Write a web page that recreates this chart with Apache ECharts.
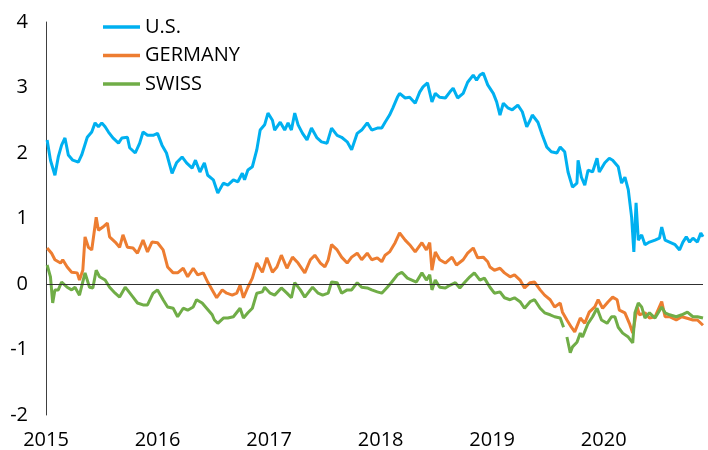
<!DOCTYPE html>
<html>

<head>
    <meta charset="utf-8">
    <title>10-year yields</title>
    <script src="https://cdn.jsdelivr.net/npm/echarts@6/dist/echarts.min.js"></script>
    <style>
        html, body { margin: 0; padding: 0; background: #fff; }
    </style>
</head>

<body>
    <div id="main" style="width: 708px;height:450px;"></div>
    <script type="text/javascript">
        // x values are decimal years
        var usYears = [2015.01, 2015.04, 2015.08, 2015.11, 2015.14, 2015.17, 2015.20, 2015.24, 2015.29, 2015.32,
            2015.37, 2015.41, 2015.44, 2015.47, 2015.50, 2015.53, 2015.56, 2015.60, 2015.65, 2015.68,
            2015.73, 2015.75, 2015.80, 2015.84, 2015.87, 2015.91, 2015.96, 2016.00, 2016.04, 2016.08,
            2016.13, 2016.17, 2016.22, 2016.26, 2016.31, 2016.34, 2016.38, 2016.42, 2016.45, 2016.50,
            2016.54, 2016.59, 2016.63, 2016.68, 2016.72, 2016.76, 2016.78, 2016.81, 2016.85, 2016.89,
            2016.92, 2016.96, 2016.99, 2017.03, 2017.05, 2017.10, 2017.14, 2017.17, 2017.20, 2017.23,
            2017.26, 2017.30, 2017.34, 2017.38, 2017.43, 2017.47, 2017.52, 2017.56, 2017.61, 2017.65,
            2017.70, 2017.74, 2017.79, 2017.83, 2017.88, 2017.92, 2017.97, 2018.01, 2018.04, 2018.08,
            2018.11, 2018.15, 2018.17, 2018.22, 2018.26, 2018.31, 2018.35, 2018.38, 2018.42, 2018.46,
            2018.49, 2018.53, 2018.58, 2018.62, 2018.65, 2018.69, 2018.74, 2018.78, 2018.83, 2018.86,
            2018.89, 2018.92, 2018.96, 2019.01, 2019.04, 2019.07, 2019.10, 2019.14, 2019.18, 2019.23,
            2019.27, 2019.31, 2019.34, 2019.36, 2019.41, 2019.45, 2019.49, 2019.53, 2019.58, 2019.61,
            2019.65, 2019.68, 2019.72, 2019.76, 2019.77, 2019.80, 2019.83, 2019.86, 2019.90, 2019.94,
            2019.96, 2020.01, 2020.05, 2020.08, 2020.13, 2020.16, 2020.19, 2020.22, 2020.25, 2020.27,
            2020.29, 2020.31, 2020.34, 2020.37, 2020.41, 2020.46, 2020.50, 2020.52, 2020.55, 2020.59,
            2020.64, 2020.68, 2020.71, 2020.74, 2020.77, 2020.80, 2020.84, 2020.87, 2020.89];
        var usValues = [2.20, 1.89, 1.66, 1.94, 2.12, 2.23, 1.97, 1.89, 1.86, 1.97,
            2.24, 2.32, 2.46, 2.40, 2.46, 2.40, 2.32, 2.23, 2.15, 2.23,
            2.24, 2.08, 2.00, 2.15, 2.32, 2.27, 2.27, 2.30, 2.12, 2.00,
            1.69, 1.85, 1.94, 1.85, 1.77, 1.89, 1.71, 1.85, 1.66, 1.59,
            1.39, 1.54, 1.51, 1.59, 1.56, 1.69, 1.59, 1.74, 1.79, 2.05,
            2.35, 2.43, 2.61, 2.50, 2.35, 2.47, 2.35, 2.46, 2.35, 2.61,
            2.43, 2.30, 2.20, 2.38, 2.23, 2.17, 2.15, 2.38, 2.27, 2.24,
            2.17, 2.05, 2.30, 2.35, 2.46, 2.35, 2.38, 2.38, 2.47, 2.58,
            2.69, 2.85, 2.91, 2.84, 2.85, 2.76, 2.93, 3.01, 3.07, 2.78,
            2.91, 2.85, 2.84, 2.93, 2.99, 2.84, 2.91, 3.08, 3.19, 3.11,
            3.19, 3.22, 3.04, 2.91, 2.78, 2.58, 2.76, 2.69, 2.66, 2.73,
            2.63, 2.40, 2.50, 2.58, 2.47, 2.27, 2.09, 2.02, 2.00, 2.09,
            2.02, 1.71, 1.48, 1.54, 1.89, 1.63, 1.51, 1.74, 1.71, 1.92,
            1.71, 1.85, 1.92, 1.89, 1.79, 1.54, 1.63, 1.44, 1.02, 0.49,
            1.24, 0.67, 0.75, 0.60, 0.64, 0.67, 0.70, 0.87, 0.67, 0.64,
            0.60, 0.52, 0.64, 0.72, 0.64, 0.70, 0.64, 0.78, 0.72];

        var deYears = [2015.01, 2015.05, 2015.08, 2015.13, 2015.15, 2015.19, 2015.23, 2015.28, 2015.30, 2015.33,
            2015.35, 2015.38, 2015.41, 2015.45, 2015.47, 2015.51, 2015.55, 2015.57, 2015.62, 2015.66,
            2015.69, 2015.73, 2015.78, 2015.82, 2015.87, 2015.91, 2015.95, 2016.00, 2016.05, 2016.09,
            2016.14, 2016.18, 2016.23, 2016.27, 2016.32, 2016.36, 2016.41, 2016.45, 2016.49, 2016.53,
            2016.58, 2016.62, 2016.67, 2016.71, 2016.74, 2016.77, 2016.81, 2016.85, 2016.89, 2016.94,
            2016.98, 2017.03, 2017.07, 2017.11, 2017.16, 2017.21, 2017.26, 2017.32, 2017.37, 2017.41,
            2017.46, 2017.50, 2017.53, 2017.56, 2017.61, 2017.65, 2017.70, 2017.74, 2017.79, 2017.83,
            2017.88, 2017.92, 2017.97, 2018.01, 2018.04, 2018.08, 2018.13, 2018.17, 2018.22, 2018.26,
            2018.31, 2018.37, 2018.41, 2018.44, 2018.46, 2018.49, 2018.53, 2018.58, 2018.64, 2018.68,
            2018.74, 2018.78, 2018.83, 2018.87, 2018.92, 2018.96, 2018.98, 2019.02, 2019.07, 2019.11,
            2019.16, 2019.20, 2019.25, 2019.29, 2019.34, 2019.38, 2019.43, 2019.47, 2019.52, 2019.56,
            2019.61, 2019.63, 2019.67, 2019.71, 2019.74, 2019.79, 2019.83, 2019.87, 2019.92, 2019.95,
            2019.99, 2020.04, 2020.08, 2020.12, 2020.14, 2020.19, 2020.23, 2020.26, 2020.30, 2020.32,
            2020.37, 2020.41, 2020.46, 2020.52, 2020.55, 2020.59, 2020.65, 2020.70, 2020.74, 2020.80,
            2020.84, 2020.89];
        var deValues = [0.55, 0.47, 0.37, 0.32, 0.37, 0.26, 0.18, 0.17, 0.06, 0.21,
            0.72, 0.56, 0.52, 1.02, 0.82, 0.87, 0.93, 0.72, 0.64, 0.56,
            0.75, 0.56, 0.55, 0.47, 0.67, 0.49, 0.64, 0.63, 0.52, 0.26,
            0.17, 0.17, 0.24, 0.11, 0.24, 0.14, 0.17, 0.03, -0.09, -0.21,
            -0.09, -0.14, -0.17, -0.14, -0.02, -0.21, -0.05, 0.09, 0.32, 0.18,
            0.40, 0.18, 0.26, 0.44, 0.24, 0.41, 0.32, 0.17, 0.37, 0.44,
            0.32, 0.26, 0.37, 0.60, 0.52, 0.41, 0.32, 0.41, 0.47, 0.37,
            0.47, 0.37, 0.40, 0.34, 0.44, 0.49, 0.63, 0.78, 0.67, 0.60,
            0.49, 0.63, 0.52, 0.63, 0.21, 0.49, 0.37, 0.32, 0.41, 0.29,
            0.37, 0.47, 0.55, 0.40, 0.41, 0.34, 0.26, 0.21, 0.24, 0.17,
            0.11, 0.14, 0.06, -0.06, 0.02, 0.03, -0.09, -0.17, -0.24, -0.35,
            -0.29, -0.43, -0.55, -0.66, -0.73, -0.52, -0.60, -0.43, -0.35, -0.24,
            -0.37, -0.27, -0.20, -0.24, -0.40, -0.44, -0.60, -0.75, -0.35, -0.47,
            -0.44, -0.52, -0.50, -0.27, -0.50, -0.50, -0.55, -0.50, -0.52, -0.55,
            -0.55, -0.63];

        // null marks the short break in the Swiss line in 2019
        var chYears = [2015.01, 2015.04, 2015.06, 2015.08, 2015.11, 2015.14, 2015.19, 2015.23, 2015.26, 2015.30,
            2015.35, 2015.39, 2015.42, 2015.45, 2015.48, 2015.53, 2015.57, 2015.62, 2015.66, 2015.71,
            2015.73, 2015.78, 2015.82, 2015.87, 2015.91, 2015.96, 2016.00, 2016.05, 2016.09, 2016.14,
            2016.18, 2016.23, 2016.27, 2016.32, 2016.35, 2016.40, 2016.44, 2016.49, 2016.51, 2016.54,
            2016.59, 2016.63, 2016.68, 2016.74, 2016.77, 2016.81, 2016.85, 2016.89, 2016.94, 2016.96,
            2017.01, 2017.05, 2017.11, 2017.16, 2017.20, 2017.23, 2017.28, 2017.32, 2017.37, 2017.39,
            2017.44, 2017.48, 2017.53, 2017.56, 2017.61, 2017.65, 2017.70, 2017.74, 2017.79, 2017.83,
            2017.88, 2017.92, 2017.97, 2018.01, 2018.06, 2018.10, 2018.15, 2018.19, 2018.24, 2018.28,
            2018.32, 2018.37, 2018.41, 2018.44, 2018.46, 2018.49, 2018.53, 2018.58, 2018.62, 2018.67,
            2018.71, 2018.75, 2018.80, 2018.84, 2018.89, 2018.93, 2018.98, 2019.02, 2019.07, 2019.11,
            2019.16, 2019.20, 2019.25, 2019.29, 2019.34, 2019.38, 2019.43, 2019.47, 2019.52, 2019.56,
            2019.61, 2019.64, 2019.655, 2019.67, 2019.70, 2019.72, 2019.76, 2019.79, 2019.81, 2019.86,
            2019.90, 2019.94, 2019.98, 2020.03, 2020.07, 2020.10, 2020.13, 2020.17, 2020.22, 2020.26,
            2020.28, 2020.31, 2020.34, 2020.37, 2020.41, 2020.46, 2020.52, 2020.55, 2020.59, 2020.65,
            2020.70, 2020.75, 2020.80, 2020.84, 2020.89];
        var chValues = [0.29, 0.11, -0.29, -0.09, -0.09, 0.03, -0.05, -0.09, -0.05, -0.17,
            0.17, -0.05, -0.06, 0.21, 0.11, 0.06, -0.05, -0.14, -0.20, -0.05,
            -0.09, -0.20, -0.29, -0.32, -0.32, -0.14, -0.09, -0.24, -0.35, -0.37,
            -0.50, -0.37, -0.40, -0.35, -0.24, -0.29, -0.37, -0.47, -0.55, -0.60,
            -0.52, -0.52, -0.50, -0.37, -0.52, -0.44, -0.37, -0.14, -0.12, -0.05,
            -0.14, -0.17, -0.06, -0.14, -0.21, 0.02, -0.09, -0.20, -0.09, -0.05,
            -0.14, -0.17, -0.14, 0.03, 0.02, -0.14, -0.09, -0.09, 0.02, -0.05,
            -0.06, -0.09, -0.12, -0.14, -0.05, 0.03, 0.14, 0.18, 0.09, 0.06,
            0.03, 0.17, 0.06, 0.14, -0.09, 0.06, -0.05, -0.06, -0.02, 0.02,
            -0.06, 0.02, 0.11, 0.17, 0.06, 0.09, -0.05, -0.14, -0.12, -0.21,
            -0.24, -0.21, -0.27, -0.37, -0.27, -0.24, -0.37, -0.44, -0.47, -0.50,
            -0.52, -0.66, null, -0.81, -1.05, -0.96, -0.89, -0.75, -0.81, -0.60,
            -0.50, -0.37, -0.55, -0.60, -0.50, -0.50, -0.66, -0.75, -0.81, -0.90,
            -0.44, -0.29, -0.35, -0.52, -0.44, -0.52, -0.35, -0.44, -0.47, -0.50,
            -0.47, -0.43, -0.50, -0.50, -0.52];

        var yearTicks = [2015, 2016, 2017, 2018, 2019, 2020];

        function pairs(xs, ys) {
            return xs.map(function (x, i) {
                return [x, ys[i] === null ? '-' : ys[i]];
            });
        }

        var dom = document.getElementById("main");
        var myChart = echarts.init(dom);
        var font = 'Open Sans';

        var option = {
            animation: false,
            grid: {
                left: 46,
                right: 5,
                top: 22,
                bottom: 35
            },
            legend: {
                orient: 'vertical',
                left: 103,
                top: 17,
                padding: 0,
                icon: 'rect',
                itemWidth: 37,
                itemHeight: 3.5,
                itemGap: 8.5,
                textStyle: {
                    fontFamily: font,
                    fontSize: 20,
                    lineHeight: 20,
                    color: '#000'
                },
                data: ['U.S.', 'GERMANY', 'SWISS']
            },
            xAxis: {
                type: 'value',
                min: yearTicks[0],
                max: 2020.89,
                interval: 1,
                axisLine: { show: false },
                axisTick: { show: false },
                splitLine: { show: false },
                axisLabel: {
                    margin: 15,
                    color: '#000',
                    fontFamily: font,
                    fontSize: 20,
                    formatter: function (v) {
                        return yearTicks.indexOf(v) >= 0 ? String(v) : '';
                    }
                }
            },
            yAxis: {
                type: 'value',
                min: -2,
                max: 4,
                interval: 1,
                axisLine: { show: true, lineStyle: { color: '#404040', width: 1 } },
                axisTick: { show: false },
                splitLine: { show: false },
                axisLabel: {
                    margin: 18,
                    color: '#000',
                    fontFamily: font,
                    fontSize: 20
                }
            },
            series: [{
                name: 'U.S.',
                type: 'line',
                showSymbol: false,
                color: '#00B0F0',
                lineStyle: { width: 3 },
                data: pairs(usYears, usValues),
                markLine: {
                    silent: true,
                    symbol: 'none',
                    label: { show: false },
                    lineStyle: { color: '#303030', width: 1.2, type: 'solid' },
                    data: [{ yAxis: 0 }]
                }
            }, {
                name: 'GERMANY',
                type: 'line',
                showSymbol: false,
                color: '#ED7D31',
                lineStyle: { width: 3 },
                data: pairs(deYears, deValues)
            }, {
                name: 'SWISS',
                type: 'line',
                showSymbol: false,
                connectNulls: false,
                color: '#70AD47',
                lineStyle: { width: 3 },
                data: pairs(chYears, chValues)
            }]
        };

        if (option && typeof option === "object") {
            myChart.setOption(option, true);
        }
    </script>
</body>

</html>
